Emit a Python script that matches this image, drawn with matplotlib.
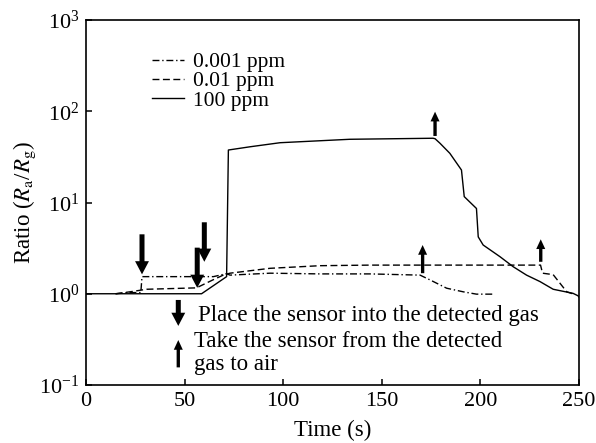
import matplotlib
matplotlib.use("Agg")
import matplotlib.pyplot as plt
from matplotlib.ticker import LogLocator, NullLocator

plt.rcParams['font.family'] = ['Liberation Serif', 'DejaVu Serif']
plt.rcParams['mathtext.fontset'] = 'stix'

# ---- data ----
t_100 = [0, 58.6, 71.3, 72.2, 83.2, 98.4, 133.8, 176, 177, 179.5, 184.5, 190.4,
         191.8, 198, 198.9, 201.4, 209.9, 216.6, 223.4, 230.2, 236.9, 247, 249.5, 250]
r_100 = [1.0, 1.0, 1.54, 37.6, 40.8, 45.2, 49.3, 50.6, 50.0, 44.6, 34.6, 22.7,
         11.6, 8.6, 4.2, 3.42, 2.55, 1.98, 1.60, 1.36, 1.12, 1.01, 0.95, 0.92]

t_001 = [15, 22.3, 30.8, 56, 64.4, 69.6, 73, 93.3, 118.7, 144, 169.4, 230.5,
         231.5, 236.9, 243.8, 248]
r_001 = [1.0, 1.05, 1.12, 1.16, 1.42, 1.60, 1.68, 1.90, 2.03, 2.06, 2.06, 2.06,
         1.68, 1.62, 1.05, 0.98]

t_0001 = [15, 22, 27.8, 28.4, 53.6, 64.6, 71.3, 73, 93.3, 118.7, 144, 169.4,
          174.4, 182.9, 191.3, 198, 207.4]
r_0001 = [1.0, 1.03, 1.03, 1.54, 1.54, 1.54, 1.66, 1.60, 1.68, 1.65, 1.65, 1.60,
          1.42, 1.15, 1.05, 0.99, 0.99]

labels = ['0.001 ppm', '0.01 ppm', '100 ppm']
note_in = 'Place the sensor into the detected gas'
note_out = ['Take the sensor from the detected', 'gas to air']

fig = plt.figure(figsize=(5.96, 4.43), dpi=100)
ax = fig.add_axes([86/596, 58/443, 493/596, 365/443])

lw = 1.0
ax.plot(t_0001, r_0001, color='k', lw=lw, dashes=[5, 2, 1, 2], label=labels[0])
ax.plot(t_001, r_001, color='k', lw=lw, dashes=[5, 2.5], label=labels[1])
ax.plot(t_100, r_100, color='k', lw=lw, ls='-', label=labels[2])

ax.set_yscale('log')
ax.set_xlim(0, 250)
ax.set_ylim(0.1, 1000)
ax.set_xticks([0, 50, 100, 150, 200, 250])
ax.yaxis.set_major_locator(LogLocator(base=10, numticks=10))
ax.yaxis.set_minor_locator(NullLocator())
ax.tick_params(direction='in', length=4, width=1.1, labelsize=16, pad=5)
for s in ['top', 'right', 'left', 'bottom']:
    ax.spines[s].set_linewidth(1.2)

ax.set_xlabel('Time (s)', fontsize=16.5, labelpad=6.5)
ax.set_ylabel(r'Ratio ($R_{\rm a}$/$R_{\rm g}$)', fontsize=16.5, labelpad=1)

leg = ax.legend(loc='upper left', bbox_to_anchor=(0.133, 0.912), frameon=False,
                fontsize=15.5, handlelength=1.5, handletextpad=0.44,
                labelspacing=-0.04, borderpad=0, borderaxespad=0)

big = dict(arrowstyle='simple,head_length=0.95,head_width=1.0,tail_width=0.36',
           mutation_scale=10, color='k', shrinkA=0, shrinkB=0, lw=0)
small = dict(arrowstyle='simple,head_length=0.7,head_width=0.65,tail_width=0.24',
             mutation_scale=10, color='k', shrinkA=0, shrinkB=0, lw=0)

# down arrows (into gas)
for x, top, tip in [(28.4, 4.48, 1.63), (60.0, 6.07, 2.24), (56.4, 3.20, 1.16)]:
    ax.annotate('', xy=(x, tip), xytext=(x, top), arrowprops=big)
# up arrows (to air)
for x, bot, tip in [(177, 53.6, 98.9), (170.7, 1.68, 3.42), (230.6, 2.24, 3.95)]:
    ax.annotate('', xy=(x, tip), xytext=(x, bot), arrowprops=small)

# explanation
ax.annotate('', xy=(46.8, 0.444), xytext=(46.8, 0.855), arrowprops=big)
ax.annotate('', xy=(46.8, 0.311), xytext=(46.8, 0.156), arrowprops=small)
ax.text(56.6, 10**-0.233, note_in, fontsize=16.5, va='center', ha='left')
ax.text(54.9, 10**-0.518, note_out[0], fontsize=16.5, va='center', ha='left')
ax.text(54.9, 10**-0.770, note_out[1], fontsize=16.5, va='center', ha='left')

fig.savefig('out.png', dpi=100)
